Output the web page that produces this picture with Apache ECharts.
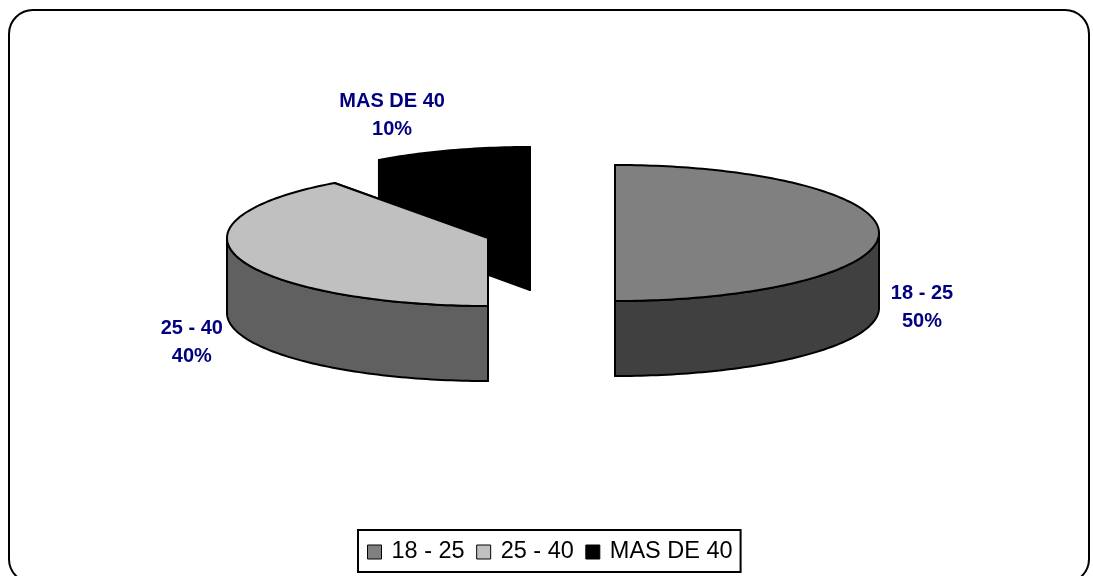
<!DOCTYPE html>
<html>
<head>
<meta charset="utf-8">
<style>html,body{margin:0;padding:0;background:#fff;overflow:hidden}#chart{width:1093px;height:576px}</style>
<script src="https://cdn.jsdelivr.net/npm/echarts@6/dist/echarts.min.js"></script>
</head>
<body>
<div id="chart"></div>
<script>
// Age groups and their share of respondents
const categories = ['18 - 25', '25 - 40', 'MAS DE 40'];
const shares = [50, 40, 10];

// Fill colours for the top face and the extruded rim of each wedge
const topColors = ['#808080', '#c0c0c0', '#000000'];
const rimColors = ['#404040', '#606060', '#000000'];

// Exploded pie geometry: wedge centres, radii, label offsets from the rim midpoint
const centers = [[615, 233], [488, 238], [530, 215]];
const radiiX = [264, 261, 257];
const labelOffsets = [[43, 74.5], [-48, 83.5], [-58.5, -34.5]];
const stackOrder = [3, 4, 2];
const RY = 68, DEPTH = 75;

const total = shares.reduce((a, b) => a + b, 0);
const startAngles = [];
shares.reduce((acc, v, i) => { startAngles[i] = acc; return acc + v; }, 0);

const toAngle = v => v / total * Math.PI * 2;

function rimPoint(i, a, drop) {
  const c = centers[i];
  return [c[0] + radiiX[i] * Math.sin(a), c[1] - RY * Math.cos(a) + (drop || 0)];
}

function arcPoints(i, a0, a1, drop) {
  const steps = Math.max(2, Math.ceil((a1 - a0) / 0.02));
  const pts = [];
  for (let s = 0; s <= steps; s++) pts.push(rimPoint(i, a0 + (a1 - a0) * s / steps, drop));
  return pts;
}

function makeRenderItem(i) {
  return function (params, api) {
    const value = api.value(0);
    const c = centers[i];
    const a0 = toAngle(startAngles[i]);
    const a1 = a0 + toAngle(value);
    const children = [];
    const addPoly = (points, fill) => children.push({
      type: 'polygon',
      shape: { points },
      style: { fill, stroke: '#000000', lineWidth: 2, lineJoin: 'round' }
    });

    // Cut faces behind the rim
    [a0, a1].forEach(a => {
      const p = rimPoint(i, a);
      addPoly([c, p, [p[0], p[1] + DEPTH], [c[0], c[1] + DEPTH]], rimColors[i]);
    });

    // Curved rim, only the part that faces the viewer
    const f0 = Math.max(a0, Math.PI / 2);
    const f1 = Math.min(a1, Math.PI * 1.5);
    if (f1 > f0) {
      addPoly(arcPoints(i, f0, f1).concat(arcPoints(i, f0, f1, DEPTH).reverse()), rimColors[i]);
    }

    // Top face
    addPoly([c].concat(arcPoints(i, a0, a1)), topColors[i]);

    // Data label next to the rim midpoint
    const mid = rimPoint(i, (a0 + a1) / 2);
    children.push({
      type: 'text',
      z2: 10,
      style: {
        text: categories[i] + '\n' + Math.round(value / total * 100) + '%',
        x: mid[0] + labelOffsets[i][0],
        y: mid[1] + labelOffsets[i][1],
        align: 'center',
        verticalAlign: 'middle',
        fontFamily: '"Liberation Sans", Arial, sans-serif',
        fontWeight: 'bold',
        fontSize: 20,
        lineHeight: 28,
        fill: '#000080'
      }
    });
    return { type: 'group', children };
  };
}

const chart = echarts.init(document.getElementById('chart'));
chart.setOption({
  animation: false,
  backgroundColor: '#ffffff',
  graphic: [{
    type: 'rect',
    z: 0,
    silent: true,
    shape: { x: 9, y: 10, width: 1080, height: 573, r: 24 },
    style: { fill: '#ffffff', stroke: '#000000', lineWidth: 2 }
  }],
  legend: {
    data: categories,
    left: 358,
    top: 530,
    orient: 'horizontal',
    icon: 'rect',
    itemWidth: 14,
    itemHeight: 14,
    itemGap: 11.5,
    padding: [10, 8, 8, 9],
    backgroundColor: '#ffffff',
    borderColor: '#000000',
    borderWidth: 2,
    borderRadius: 0,
    itemStyle: { borderColor: '#000000', borderWidth: 1 },
    textStyle: {
      color: '#000000',
      fontFamily: '"Liberation Sans", Arial, sans-serif',
      fontSize: 23.5,
      padding: [0, 0, 0, 5]
    }
  },
  series: categories.map((name, i) => ({
    type: 'custom',
    name,
    coordinateSystem: 'none',
    z: stackOrder[i],
    itemStyle: { color: topColors[i] },
    renderItem: makeRenderItem(i),
    data: [[shares[i]]]
  }))
});
</script>
</body>
</html>
